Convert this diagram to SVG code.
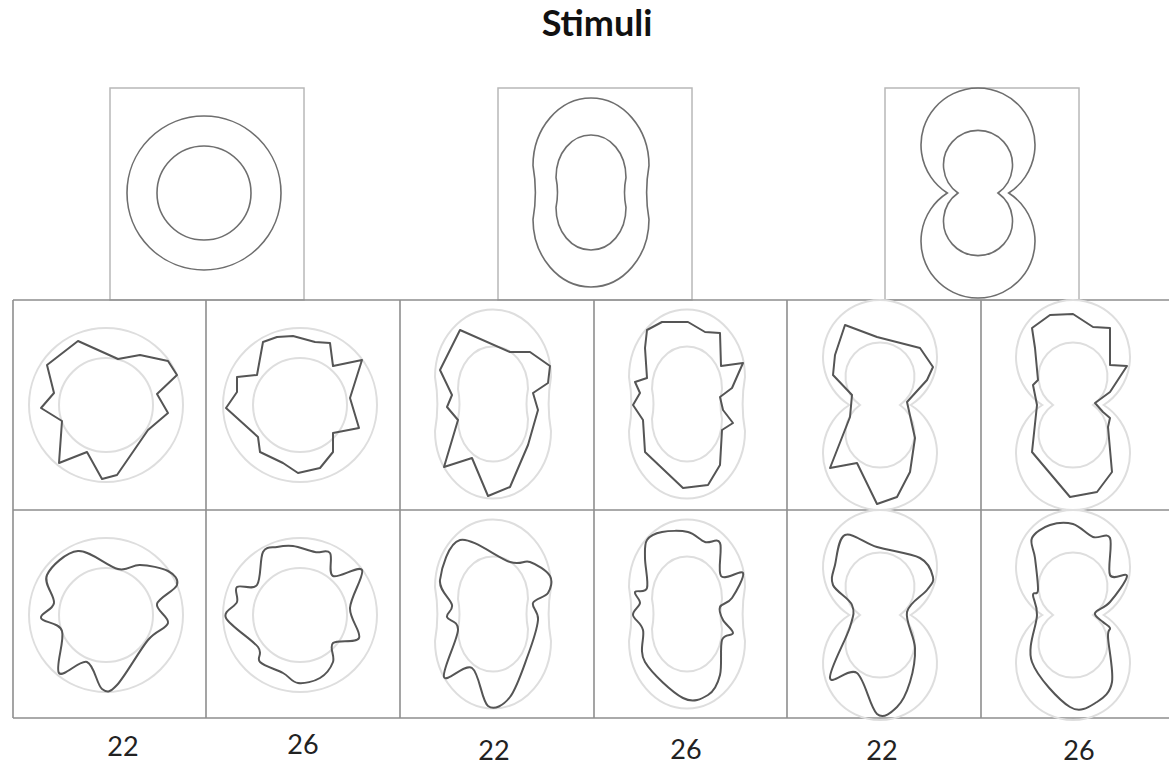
<svg xmlns="http://www.w3.org/2000/svg" xmlns:xlink="http://www.w3.org/1999/xlink" width="1169" height="766" viewBox="0 0 1169 766">
<style>
.bg{fill:#ffffff}
.tbox{fill:none;stroke:#b8b8b8;stroke-width:1.5}
.grid{fill:none;stroke:#8e8e8e;stroke-width:1.6}
.ref{fill:none;stroke:#6e6e6e;stroke-width:1.6}
.ghost{fill:none;stroke:#dedede;stroke-width:2}
.contour{fill:none;stroke:#555555;stroke-width:2;stroke-linejoin:round}
.title{font-family:Lato,"Liberation Sans",sans-serif;font-weight:bold;font-size:36px;fill:#111}
.lbl{font-family:Lato,"Liberation Sans",sans-serif;font-size:27px;fill:#222;text-anchor:middle}
</style>
<defs>
<g id="circ">
<circle cx="0" cy="0" r="77"/>
<circle cx="0" cy="0" r="47"/>
</g>
<g id="stad">
<path d="M-58,-27 C-58,-64 -32,-94.5 0,-94.5 C32,-94.5 58,-64 58,-27 C55,-10 55,10 58,27 C58,64 32,94.5 0,94.5 C-32,94.5 -58,64 -58,27 C-55,10 -55,-10 -58,-27 Z"/>
<path d="M-35,-15 C-35,-40 -19,-57.5 0,-57.5 C19,-57.5 35,-40 35,-15 C33,-5 33,5 35,15 C35,40 19,57.5 0,57.5 C-19,57.5 -35,40 -35,15 C-33,5 -33,-5 -35,-15 Z"/>
</g>
<g id="fig8">
<path d="M-30.7,0 A57,57 0 1 1 30.7,0 A57,57 0 1 1 -30.7,0 Z"/>
<path d="M-20,0 A34.5,34.5 0 1 1 20,0 A34.5,34.5 0 1 1 -20,0 Z"/>
</g>
</defs>
<rect class="bg" x="0" y="0" width="1169" height="766"/>
<text class="title" x="597" y="36" text-anchor="middle">Stimuli</text>

<g id="template-circle">
<rect class="tbox" x="110" y="88" width="194" height="212"/>
<use xlink:href="#circ" class="ref" transform="translate(204,193)"/>
</g>
<g id="template-stadium">
<rect class="tbox" x="498" y="88" width="194" height="212"/>
<use xlink:href="#stad" class="ref" transform="translate(591,192.5)"/>
</g>
<g id="template-figure8">
<rect class="tbox" x="885" y="88" width="194" height="212"/>
<use xlink:href="#fig8" class="ref" transform="translate(978,193)"/>
</g>

<g id="grid">
<line class="grid" x1="13" y1="300" x2="1169" y2="300"/>
<line class="grid" x1="13" y1="510" x2="1169" y2="510"/>
<line class="grid" x1="13" y1="718" x2="1169" y2="718"/>
<line class="grid" x1="13" y1="300" x2="13" y2="718"/>
<line class="grid" x1="206" y1="300" x2="206" y2="718"/>
<line class="grid" x1="400" y1="300" x2="400" y2="718"/>
<line class="grid" x1="594" y1="300" x2="594" y2="718"/>
<line class="grid" x1="787" y1="300" x2="787" y2="718"/>
<line class="grid" x1="981" y1="300" x2="981" y2="718"/>
</g>

<g id="ghosts">
<use xlink:href="#circ" class="ghost" transform="translate(106,405)"/>
<use xlink:href="#circ" class="ghost" transform="translate(300,405)"/>
<use xlink:href="#stad" class="ghost" transform="translate(493,404)"/>
<use xlink:href="#stad" class="ghost" transform="translate(687,404)"/>
<use xlink:href="#fig8" class="ghost" transform="translate(880,405)"/>
<use xlink:href="#fig8" class="ghost" transform="translate(1073,405)"/>
<use xlink:href="#circ" class="ghost" transform="translate(106,615)"/>
<use xlink:href="#circ" class="ghost" transform="translate(300,615)"/>
<use xlink:href="#stad" class="ghost" transform="translate(493,614)"/>
<use xlink:href="#stad" class="ghost" transform="translate(687,614)"/>
<use xlink:href="#fig8" class="ghost" transform="translate(880,615)"/>
<use xlink:href="#fig8" class="ghost" transform="translate(1073,615)"/>
</g>

<g id="row-polygons">
<polygon class="contour" points="78,341 118,359 140,355 168,361 177,375 157,394 168,413 148,430 117,475 102,479 87,452 59,463 62,421 41,408 54,393 47,365"/>
<polygon class="contour" points="263,342 277,337 293,336 315,342 330,343 333,366 362,360 350,398 359,428 333,433 333,452 320,468 298,473 283,463 260,452 258,437 226,408 237,392 237,377 257,375"/>
<polygon class="contour" points="460,330 510,352 530,352 550,366 548,383 533,393 538,410 528,445 510,487 488,496 472,458 444,467 458,420 447,407 452,395 440,370"/>
<polygon class="contour" points="647,330 662,322 688,322 705,332 720,333 721,366 743,363 732,388 720,397 723,410 733,423 722,430 720,465 708,485 683,488 645,452 643,420 633,405 640,393 635,382 647,378 645,348"/>
<polygon class="contour" points="845,325 877,337 920,348 933,367 927,380 907,402 915,438 910,472 897,497 877,504 857,463 830,468 850,417 852,395 833,375 835,355"/>
<polygon class="contour" points="1032,328 1050,315 1073,314 1093,327 1110,328 1110,365 1127,366 1110,392 1095,403 1103,412 1110,418 1108,427 1112,472 1097,492 1070,497 1032,452 1037,405 1033,385 1038,380 1035,348"/>
</g>

<g id="row-smooth" transform="translate(0,210)">
<path class="contour" d="M 78,341 C 89.8,340 107.7,356.7 118,359 C 128.3,361.3 131.7,354.7 140,355 C 148.3,355.3 161.8,357.7 168,361 C 174.2,364.3 178.8,369.5 177,375 C 175.2,380.5 158.5,387.7 157,394 C 155.5,400.3 169.5,407 168,413 C 166.5,419 156.5,419.7 148,430 C 139.5,440.3 124.7,466.8 117,475 C 109.3,483.2 107,482.8 102,479 C 97,475.2 94.2,454.7 87,452 C 79.8,449.3 63.2,468.2 59,463 C 54.8,457.8 65,430.2 62,421 C 59,411.8 42.3,412.7 41,408 C 39.7,403.3 53,400.2 54,393 C 55,385.8 43,373.7 47,365 C 51,356.3 66.2,342 78,341 Z"/>
<path class="contour" d="M 263,342 C 266.3,335.7 272,338 277,337 C 282,336 286.7,335.2 293,336 C 299.3,336.8 308.8,340.8 315,342 C 321.2,343.2 327,339 330,343 C 333,347 327.7,363.2 333,366 C 338.3,368.8 359.2,354.7 362,360 C 364.8,365.3 350.5,386.7 350,398 C 349.5,409.3 361.8,422.2 359,428 C 356.2,433.8 337.3,429 333,433 C 328.7,437 335.2,446.2 333,452 C 330.8,457.8 325.8,464.5 320,468 C 314.2,471.5 304.2,473.8 298,473 C 291.8,472.2 289.3,466.5 283,463 C 276.7,459.5 264.2,456.3 260,452 C 255.8,447.7 263.7,444.3 258,437 C 252.3,429.7 229.5,415.5 226,408 C 222.5,400.5 235.2,397.2 237,392 C 238.8,386.8 233.7,379.8 237,377 C 240.3,374.2 252.7,380.8 257,375 C 261.3,369.2 259.7,348.3 263,342 Z"/>
<path class="contour" d="M 460,330 C 471.7,327 498.3,348.3 510,352 C 521.7,355.7 523.3,349.7 530,352 C 536.7,354.3 547,360.8 550,366 C 553,371.2 550.8,378.5 548,383 C 545.2,387.5 534.7,388.5 533,393 C 531.3,397.5 538.8,401.3 538,410 C 537.2,418.7 532.7,432.2 528,445 C 523.3,457.8 516.7,478.5 510,487 C 503.3,495.5 494.3,500.8 488,496 C 481.7,491.2 479.3,462.8 472,458 C 464.7,453.2 446.3,473.3 444,467 C 441.7,460.7 457.5,430 458,420 C 458.5,410 448,411.2 447,407 C 446,402.8 453.2,401.2 452,395 C 450.8,388.8 438.7,380.8 440,370 C 441.3,359.2 448.3,333 460,330 Z"/>
<path class="contour" d="M 647,330 C 649.8,325.7 655.2,323.3 662,322 C 668.8,320.7 680.8,320.3 688,322 C 695.2,323.7 699.7,330.2 705,332 C 710.3,333.8 717.3,327.3 720,333 C 722.7,338.7 717.2,361 721,366 C 724.8,371 741.2,359.3 743,363 C 744.8,366.7 735.8,382.3 732,388 C 728.2,393.7 721.5,393.3 720,397 C 718.5,400.7 720.8,405.7 723,410 C 725.2,414.3 733.2,419.7 733,423 C 732.8,426.3 724.2,423 722,430 C 719.8,437 722.3,455.8 720,465 C 717.7,474.2 714.2,481.2 708,485 C 701.8,488.8 693.5,493.5 683,488 C 672.5,482.5 651.7,463.3 645,452 C 638.3,440.7 645,427.8 643,420 C 641,412.2 633.5,409.5 633,405 C 632.5,400.5 639.7,396.8 640,393 C 640.3,389.2 633.8,384.5 635,382 C 636.2,379.5 645.3,383.7 647,378 C 648.7,372.3 645,356 645,348 C 645,340 644.2,334.3 647,330 Z"/>
<path class="contour" d="M 845,325 C 852,322 864.5,333.2 877,337 C 889.5,340.8 910.7,343 920,348 C 929.3,353 931.8,361.7 933,367 C 934.2,372.3 931.3,374.2 927,380 C 922.7,385.8 909,392.3 907,402 C 905,411.7 914.5,426.3 915,438 C 915.5,449.7 913,462.2 910,472 C 907,481.8 902.5,491.7 897,497 C 891.5,502.3 883.7,509.7 877,504 C 870.3,498.3 864.8,469 857,463 C 849.2,457 831.2,475.7 830,468 C 828.8,460.3 846.3,429.2 850,417 C 853.7,404.8 854.8,402 852,395 C 849.2,388 835.8,381.7 833,375 C 830.2,368.3 833,363.3 835,355 C 837,346.7 838,328 845,325 Z"/>
<path class="contour" d="M 1032,328 C 1034.5,322.5 1043.2,317.3 1050,315 C 1056.8,312.7 1065.8,312 1073,314 C 1080.2,316 1086.8,324.7 1093,327 C 1099.2,329.3 1107.2,321.7 1110,328 C 1112.8,334.3 1107.2,358.7 1110,365 C 1112.8,371.3 1127,361.5 1127,366 C 1127,370.5 1115.3,385.8 1110,392 C 1104.7,398.2 1096.2,399.7 1095,403 C 1093.8,406.3 1100.5,409.5 1103,412 C 1105.5,414.5 1109.2,415.5 1110,418 C 1110.8,420.5 1107.7,418 1108,427 C 1108.3,436 1113.8,461.2 1112,472 C 1110.2,482.8 1104,487.8 1097,492 C 1090,496.2 1080.8,503.7 1070,497 C 1059.2,490.3 1037.5,467.3 1032,452 C 1026.5,436.7 1036.8,416.2 1037,405 C 1037.2,393.8 1032.8,389.2 1033,385 C 1033.2,380.8 1037.7,386.2 1038,380 C 1038.3,373.8 1036,356.7 1035,348 C 1034,339.3 1029.5,333.5 1032,328 Z"/>
</g>

<g id="labels">
<text class="lbl" x="123" y="756">22</text>
<text class="lbl" x="303" y="754">26</text>
<text class="lbl" x="494" y="760">22</text>
<text class="lbl" x="686" y="759">26</text>
<text class="lbl" x="882" y="760">22</text>
<text class="lbl" x="1079" y="760">26</text>
</g>
</svg>
